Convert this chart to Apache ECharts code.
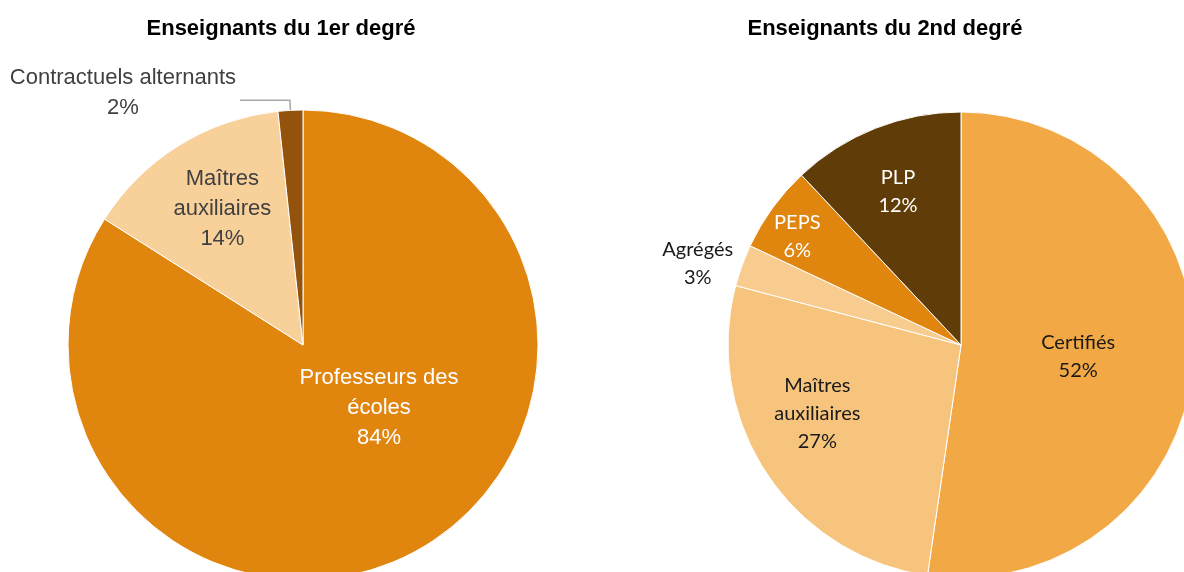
<!DOCTYPE html>
<html>
<head>
<meta charset="utf-8">
<script src="https://cdn.jsdelivr.net/npm/echarts@6/dist/echarts.min.js"></script>
<style>
html, body { margin: 0; padding: 0; background: #fff; }
#chart { width: 1184px; height: 572px; }
</style>
</head>
<body>
<div id="chart"></div>
<script>
// données
var titles = ['Enseignants du 1er degré', 'Enseignants du 2nd degré'];
var names1 = ['Professeurs des\nécoles', 'Maîtres\nauxiliaires', 'Contractuels alternants'];
var values1 = [84, 14.3, 1.7];
var labels1 = ['84%', '14%', '2%'];
var names2 = ['Certifiés', 'Maîtres\nauxiliaires', 'Agrégés', 'PEPS', 'PLP'];
var values2 = [52.3, 26.8, 2.9, 6, 12];
var labels2 = ['52%', '27%', '3%', '6%', '12%'];

var colors1 = ['#E0850E', '#F8D09A', '#93530C'];
var colors2 = ['#F2A945', '#F7C47E', '#F8CB8E', '#E0850E', '#603C08'];
var txt1 = ['#ffffff', '#404040', '#404040'];
var txt2 = ['#1a1a1a', '#1a1a1a', '#1a1a1a', '#ffffff', '#ffffff'];
// décalages des étiquettes
var shift1 = [[18, -43], [-17, -34], [-112, -7]];
var shift2 = [[-2, 3], [-44, 3], [-151, -41], [-67, -38], [-19, -42]];

function build(names, values, labels, colors, txt, outsideIdx) {
    return names.map(function (n, i) {
        var item = {
            name: n,
            value: values[i],
            itemStyle: { color: colors[i] },
            label: { color: txt[i], formatter: n + '\n' + labels[i] }
        };
        if (i === outsideIdx) {
            item.label.position = 'outside';
            item.label.overflow = 'none';
            item.labelLine = { show: true, length: 10, length2: 50, lineStyle: { color: '#A6A6A6', width: 1.5 } };
        }
        return item;
    });
}

var chart = echarts.init(document.getElementById('chart'));
var option = {
    animation: false,
    title: [
        { text: titles[0], left: 276, top: 13, textAlign: 'center',
          textStyle: { fontFamily: 'Liberation Sans', fontWeight: 'bold', fontSize: 22, color: '#000' } },
        { text: titles[1], left: 880, top: 13, textAlign: 'center',
          textStyle: { fontFamily: 'Liberation Sans', fontWeight: 'bold', fontSize: 22, color: '#000' } }
    ],
    series: [
        {
            type: 'pie',
            center: [303, 345],
            radius: 235,
            startAngle: 90,
            clockwise: true,
            itemStyle: { borderColor: '#fff', borderWidth: 1 },
            label: {
                position: 'inside',
                fontFamily: 'Liberation Sans',
                fontSize: 22,
                lineHeight: 30,
                align: 'center'
            },
            emphasis: { disabled: true },
            labelLayout: function (p) {
                var r = { dx: shift1[p.dataIndex][0], dy: shift1[p.dataIndex][1] };
                if (p.dataIndex === 2) r.align = 'center';
                return r;
            },
            data: build(names1, values1, labels1, colors1, txt1, 2)
        },
        {
            type: 'pie',
            center: [961, 345],
            radius: 233,
            startAngle: 90,
            clockwise: true,
            itemStyle: { borderColor: '#fff', borderWidth: 1 },
            label: {
                position: 'inside',
                fontFamily: 'Lato',
                fontSize: 20,
                lineHeight: 28,
                align: 'center'
            },
            emphasis: { disabled: true },
            labelLayout: function (p) {
                return { dx: shift2[p.dataIndex][0], dy: shift2[p.dataIndex][1] };
            },
            data: build(names2, values2, labels2, colors2, txt2, -1)
        }
    ]
};
chart.setOption(option);
</script>
</body>
</html>
